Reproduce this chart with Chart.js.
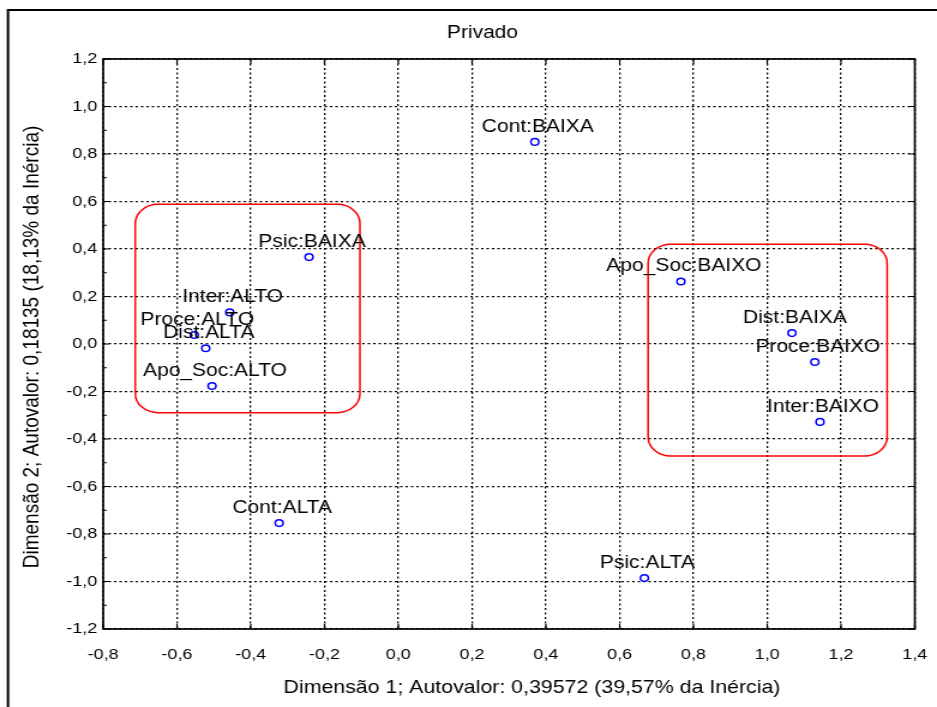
<!DOCTYPE html>
<html>
<head>
<meta charset="utf-8">
<script src="https://cdn.jsdelivr.net/npm/chart.js@4/dist/chart.umd.min.js"></script>
<style>
  html, body { margin: 0; padding: 0; background: #fff; overflow: hidden; }
  canvas { display: block; }
</style>
</head>
<body>
<!-- drawing buffer is narrower than the displayed box, giving the wide Statistica-style lettering -->
<canvas id="c" width="781" height="707" style="width:937px;height:707px"></canvas>
<script>
// Category points of the correspondence analysis (Dimensão 1, Dimensão 2)
const categories = [
  'Cont:BAIXA', 'Psic:BAIXA', 'Inter:ALTO', 'Proce:ALTO', 'Dist:ALTA', 'Apo_Soc:ALTO',
  'Apo_Soc:BAIXO', 'Dist:BAIXA', 'Proce:BAIXO', 'Inter:BAIXO', 'Cont:ALTA', 'Psic:ALTA'
];
const dim1 = [0.370, -0.242, -0.457, -0.553, -0.522, -0.505, 0.766, 1.067, 1.129, 1.143, -0.323, 0.667];
const dim2 = [0.851, 0.366, 0.133, 0.038, -0.018, -0.177, 0.263, 0.046, -0.076, -0.328, -0.754, -0.985];

// Axis ranges and tick step
const xRange = [-0.8, 1.4];
const yRange = [-1.2, 1.2];
const tickStep = 0.2;

// Highlighted groups, in data units: [xMin, xMax, yMin, yMax]
const groupAlto = [-0.713, -0.104, -0.289, 0.588];
const groupBaixo = [0.677, 1.325, -0.472, 0.420];

const chartTitle = 'Privado';
const xTitle = 'Dimensão 1; Autovalor: 0,39572 (39,57% da Inércia)';
const yTitle = 'Dimensão 2; Autovalor: 0,18135 (18,13% da Inércia)';

const FONT = '"Liberation Sans", Arial, sans-serif';
const SX = 781 / 937; // image x -> buffer x

const fmt = v => (Math.abs(v) < 1e-9 ? 0 : v).toFixed(1).replace('.', ',');

// rounded group frames, drawn from data coordinates
const groupFrames = {
  id: 'groupFrames',
  beforeDatasetsDraw(chart) {
    const { ctx, scales: { x, y } } = chart;
    ctx.save();
    ctx.strokeStyle = '#ff0000';
    ctx.lineWidth = 1.5;
    [groupAlto, groupBaixo].forEach(g => {
      const l = x.getPixelForValue(g[0]), r = x.getPixelForValue(g[1]);
      const b = y.getPixelForValue(g[2]), t = y.getPixelForValue(g[3]);
      ctx.beginPath();
      ctx.roundRect(l, t, r - l, b - t, 19);
      ctx.stroke();
    });
    ctx.restore();
  }
};

// plot border, inward tick marks, outer frame
const frame = {
  id: 'frame',
  afterDraw(chart) {
    const { ctx, chartArea: a, scales: { x, y } } = chart;
    ctx.save();
    ctx.strokeStyle = '#000';
    ctx.lineWidth = 1.7;
    ctx.strokeRect(a.left, a.top, a.right - a.left, a.bottom - a.top);
    ctx.lineWidth = 1.2;
    ctx.beginPath();
    for (let v = yRange[0]; v <= yRange[1] + 1e-9; v += tickStep / 2) {
      const py = y.getPixelForValue(v);
      const major = Math.abs(Math.round(v / tickStep) * tickStep - v) < 1e-6;
      const len = major ? 5 : 3;
      ctx.moveTo(a.left, py); ctx.lineTo(a.left + len, py);
      if (major) { ctx.moveTo(a.right, py); ctx.lineTo(a.right - len, py); }
    }
    x.ticks.forEach(t => {
      const px = x.getPixelForValue(t.value);
      ctx.moveTo(px, a.bottom); ctx.lineTo(px, a.bottom - 5);
      ctx.moveTo(px, a.top); ctx.lineTo(px, a.top + 5);
    });
    ctx.stroke();
    ctx.lineWidth = 2;
    ctx.strokeRect(8 * SX, 10, chart.width + 20, chart.height + 20);
    ctx.restore();
  }
};

// point names above each marker
const pointNames = {
  id: 'pointNames',
  afterDatasetsDraw(chart) {
    const { ctx } = chart;
    const meta = chart.getDatasetMeta(0);
    ctx.save();
    ctx.font = '17.5px ' + FONT;
    ctx.fillStyle = '#000';
    ctx.textAlign = 'center';
    ctx.textBaseline = 'middle';
    meta.data.forEach((pt, i) => {
      ctx.fillText(categories[i], pt.x + 2.5, pt.y - 15);
    });
    ctx.restore();
  }
};

// chart title and axis captions
const captions = {
  id: 'captions',
  afterDraw(chart) {
    const { ctx } = chart;
    ctx.save();
    ctx.fillStyle = '#000';
    ctx.textAlign = 'center';
    ctx.textBaseline = 'middle';
    ctx.font = '17.5px ' + FONT;
    ctx.fillText(chartTitle, 482.5 * SX, 33);
    ctx.font = '17.8px ' + FONT;
    ctx.fillText(xTitle, 532 * SX, 688);
    ctx.font = '19px ' + FONT;
    ctx.translate(32 * SX, 347);
    ctx.rotate(-Math.PI / 2);
    ctx.fillText(yTitle, 0, 0);
    ctx.restore();
  }
};

new Chart(document.getElementById('c'), {
  type: 'scatter',
  data: {
    datasets: [{
      data: dim1.map((v, i) => ({ x: v, y: dim2[i] })),
      pointStyle: 'circle',
      pointRadius: 3.3,
      pointHoverRadius: 3.3,
      borderWidth: 1.5,
      borderColor: '#0000ff',
      backgroundColor: 'rgba(0,0,0,0)'
    }]
  },
  options: {
    responsive: false,
    animation: false,
    devicePixelRatio: 1,
    layout: { padding: { top: 59, right: 18.5, bottom: 0, left: 0 } },
    plugins: { legend: { display: false }, tooltip: { enabled: false }, title: { display: false } },
    scales: {
      x: {
        type: 'linear',
        min: xRange[0], max: xRange[1],
        afterFit: s => { s.height = 78; s.paddingLeft = 0; s.paddingRight = 0; },
        grid: { color: '#000', lineWidth: 1.3, drawTicks: false },
        border: { display: false, dash: [2, 2.5] },
        ticks: {
          stepSize: tickStep, color: '#000', padding: 17,
          font: { family: FONT, size: 15 },
          callback: v => fmt(v)
        }
      },
      y: {
        type: 'linear',
        min: yRange[0], max: yRange[1],
        afterFit: s => { s.width = 86; s.paddingTop = 0; s.paddingBottom = 0; },
        grid: { color: '#000', lineWidth: 1.3, drawTicks: false },
        border: { display: false, dash: [2, 2.5] },
        ticks: {
          stepSize: tickStep, color: '#000', padding: 5,
          font: { family: FONT, size: 15 },
          callback: v => fmt(v)
        }
      }
    }
  },
  plugins: [groupFrames, pointNames, frame, captions]
});
</script>
</body>
</html>
